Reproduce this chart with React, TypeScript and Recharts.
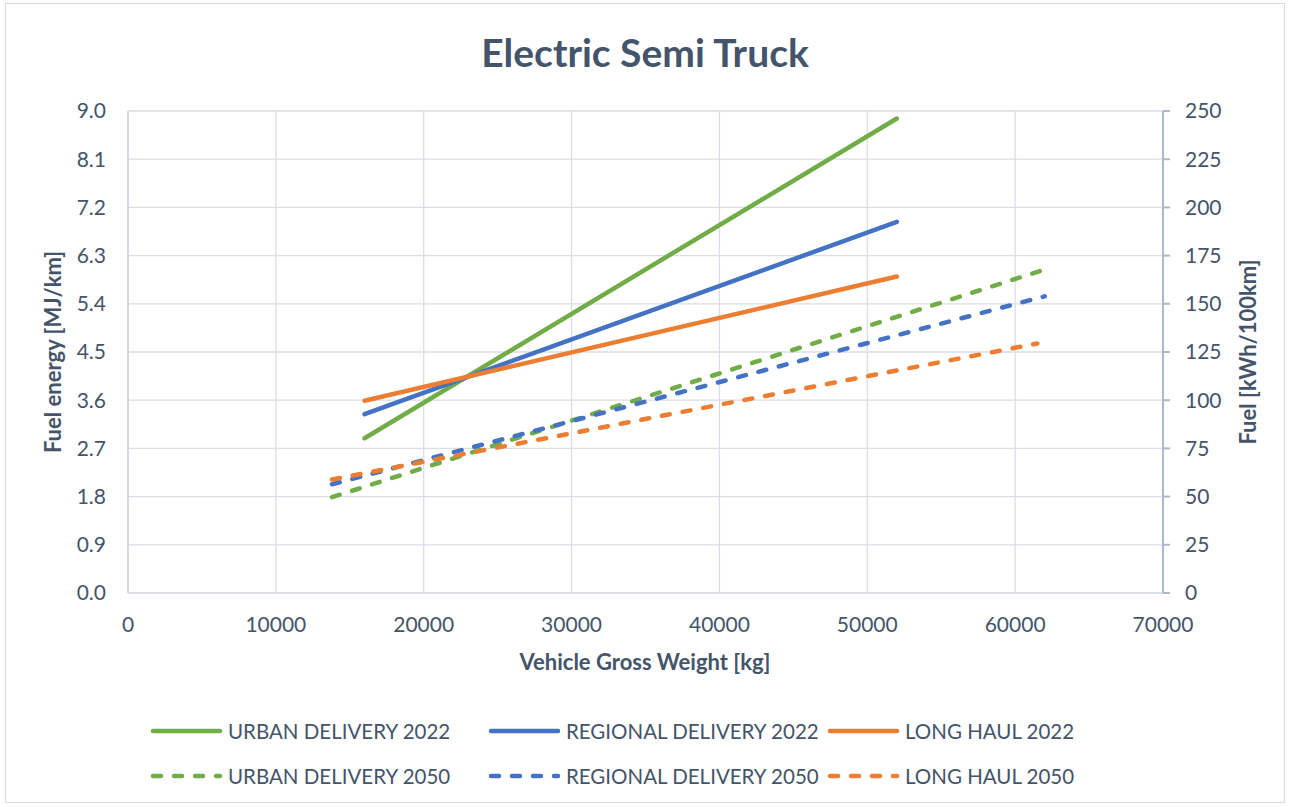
import React from 'react';
import { LineChart, Line, XAxis, YAxis, CartesianGrid } from 'recharts';

// axis ticks
const weightTicks = [0, 10000, 20000, 30000, 40000, 50000, 60000, 70000];
const energyTicks = [0, 0.9, 1.8, 2.7, 3.6, 4.5, 5.4, 6.3, 7.2, 8.1, 9.0];
const fuelTicks = [0, 25, 50, 75, 100, 125, 150, 175, 200, 225, 250];

// gross weight [kg] -> fuel energy [MJ/km]
const urban2022 = [{ w: 16000, e: 2.89 }, { w: 52000, e: 8.86 }];
const regional2022 = [{ w: 16000, e: 3.34 }, { w: 52000, e: 6.93 }];
const longHaul2022 = [{ w: 16000, e: 3.59 }, { w: 52000, e: 5.91 }];
const urban2050 = [{ w: 13800, e: 1.79 }, { w: 62000, e: 6.04 }];
const regional2050 = [{ w: 13800, e: 2.03 }, { w: 62000, e: 5.54 }];
const longHaul2050 = [{ w: 13800, e: 2.12 }, { w: 61500, e: 4.66 }];

const GREEN = '#70AD47';
const BLUE = '#4472C4';
const ORANGE = '#ED7D31';
const TEXT = '#44546A';
const GRID = '#D9DEE6';
const FONT = 'Lato, "Noto Sans", sans-serif';
const DASH = '8 13';

const series = [
  { name: 'URBAN DELIVERY 2022', data: urban2022, color: GREEN, dashed: false },
  { name: 'REGIONAL DELIVERY 2022', data: regional2022, color: BLUE, dashed: false },
  { name: 'LONG HAUL 2022', data: longHaul2022, color: ORANGE, dashed: false },
  { name: 'URBAN DELIVERY 2050', data: urban2050, color: GREEN, dashed: true },
  { name: 'REGIONAL DELIVERY 2050', data: regional2050, color: BLUE, dashed: true },
  { name: 'LONG HAUL 2050', data: longHaul2050, color: ORANGE, dashed: true },
];

// same curve in kWh/100km, only so the secondary axis has a series bound to it
const urban2022Kwh = urban2022.map((p) => ({ w: p.w, k: (p.e / 3.6) * 100 }));

const tickStyle = { fill: TEXT, fontSize: 21, fontFamily: FONT };

const LegendBlock = () => (
  <div
    style={{
      position: 'absolute',
      left: 148,
      top: 717,
      display: 'grid',
      gridTemplateColumns: '338px 339px 340px',
      rowGap: 17,
      fontFamily: FONT,
      fontSize: 20.5,
      color: TEXT,
    }}
  >
    {series.map((s) => (
      <div key={s.name} style={{ display: 'flex', alignItems: 'center', height: 28, whiteSpace: 'nowrap' }}>
        <svg width={76} height={10} style={{ flex: 'none' }}>
          <line
            x1={5}
            y1={5}
            x2={72}
            y2={5}
            stroke={s.color}
            strokeWidth={4.5}
            strokeLinecap="round"
            strokeDasharray={s.dashed ? DASH : undefined}
          />
        </svg>
        <span style={{ marginLeft: 4 }}>{s.name}</span>
      </div>
    ))}
  </div>
);

const axisTitle = {
  position: 'absolute' as const,
  whiteSpace: 'nowrap' as const,
  fontFamily: FONT,
  fontWeight: 700,
  fontSize: 22,
  color: TEXT,
};

export default function App() {
  return (
    <div style={{ position: 'absolute', left: 0, top: 0, width: 1290, height: 807, background: '#fff' }}>
      <div
        style={{
          position: 'absolute',
          left: 5,
          top: 3,
          width: 1280,
          height: 800,
          border: '1px solid #D9D9D9',
          boxSizing: 'border-box',
        }}
      />
      <div
        style={{
          position: 'absolute',
          left: 0,
          width: 1290,
          top: 29,
          textAlign: 'center',
          fontFamily: FONT,
          fontWeight: 700,
          fontSize: 39,
          color: TEXT,
        }}
      >
        Electric Semi Truck
      </div>
      <div style={{ position: 'absolute', left: 0, top: 0 }}>
        <LineChart width={1290} height={807} margin={{ top: 111, right: 57, left: 58, bottom: 174 }}>
          <CartesianGrid stroke={GRID} strokeWidth={1.3} yAxisId="left" />
          <XAxis
            dataKey="w"
            type="number"
            domain={[0, 70000]}
            ticks={weightTicks}
            allowDataOverflow
            height={40}
            axisLine={{ stroke: GRID, strokeWidth: 1.3 }}
            tickLine={false}
            tickSize={0}
            tickMargin={24}
            tick={tickStyle}
            interval={0}
          />
          <YAxis
            yAxisId="left"
            type="number"
            domain={[0, 9]}
            ticks={energyTicks}
            width={70}
            allowDataOverflow
            axisLine={{ stroke: '#CBD3DE', strokeWidth: 1.5 }}
            tickLine={false}
            tickSize={0}
            tickMargin={22}
            tick={tickStyle}
            tickFormatter={(v: number) => v.toFixed(1)}
            interval={0}
          />
          <YAxis
            yAxisId="right"
            orientation="right"
            type="number"
            domain={[0, 250]}
            ticks={fuelTicks}
            width={70}
            allowDataOverflow
            axisLine={{ stroke: '#ADB9CA', strokeWidth: 2 }}
            tickLine={{ stroke: '#ADB9CA', strokeWidth: 2 }}
            tickSize={7}
            tickMargin={15}
            tick={tickStyle}
            interval={0}
          />
          <Line
            yAxisId="right"
            data={urban2022Kwh}
            dataKey="k"
            type="linear"
            stroke="none"
            strokeWidth={0}
            dot={false}
            activeDot={false}
            legendType="none"
            isAnimationActive={false}
          />
          {series.map((s) => (
            <Line
              key={s.name}
              yAxisId="left"
              data={s.data}
              dataKey="e"
              name={s.name}
              type="linear"
              stroke={s.color}
              strokeWidth={4.5}
              strokeLinecap="round"
              strokeDasharray={s.dashed ? DASH : undefined}
              dot={false}
              activeDot={false}
              isAnimationActive={false}
            />
          ))}
        </LineChart>
      </div>
      <div style={{ ...axisTitle, left: 52, top: 352, transform: 'translate(-50%, -50%) rotate(-90deg)' }}>
        Fuel energy [MJ/km]
      </div>
      <div style={{ ...axisTitle, left: 1247, top: 352, transform: 'translate(-50%, -50%) rotate(-90deg)' }}>
        Fuel [kWh/100km]
      </div>
      <div style={{ ...axisTitle, left: 0, width: 1290, top: 648, textAlign: 'center' }}>
        Vehicle Gross Weight [kg]
      </div>
      <LegendBlock />
    </div>
  );
}
